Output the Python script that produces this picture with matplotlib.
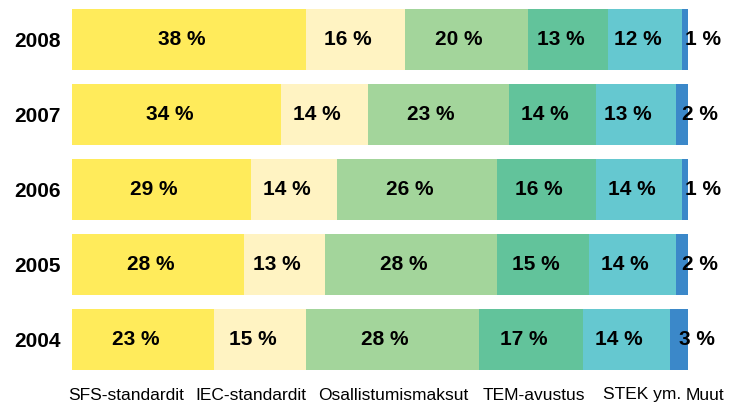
import matplotlib.pyplot as plt
import numpy as np

plt.rcParams['font.family'] = ['Liberation Sans', 'DejaVu Sans']

years = ['2008', '2007', '2006', '2005', '2004']
categories = ['SFS-standardit', 'IEC-standardit', 'Osallistumismaksut',
              'TEM-avustus', 'STEK ym.', 'Muut']
values = {
    'SFS-standardit':     [38, 34, 29, 28, 23],
    'IEC-standardit':     [16, 14, 14, 13, 15],
    'Osallistumismaksut': [20, 23, 26, 28, 28],
    'TEM-avustus':        [13, 14, 16, 15, 17],
    'STEK ym.':           [12, 13, 14, 14, 14],
    'Muut':               [1, 2, 1, 2, 3],
}
colors = ['#FFEB5B', '#FFF3C2', '#A3D59B', '#62C39B', '#65C8D0', '#3B88C9']

fig = plt.figure(figsize=(7.42, 4.05), dpi=100)
ax = fig.add_axes([72 / 742, 1 - 370 / 405, 616 / 742, 361 / 405])

y = np.arange(len(years))[::-1]
left = np.zeros(len(years))
for cat, col in zip(categories, colors):
    vals = np.array(values[cat], dtype=float)
    ax.barh(y, vals, left=left, height=0.82, color=col, edgecolor='none')
    for yi, l, v in zip(y, left, vals):
        if cat == 'Muut':
            # small slice: label hangs out past the bar end
            ax.text(l + v / 2, yi, f'{int(v)} %', ha='left', va='center',
                    fontsize=15, fontweight='bold', color='black')
        else:
            ax.text(l + v / 2 - 1.2, yi, f'{int(v)} %', ha='center', va='center',
                    fontsize=15, fontweight='bold', color='black')
    left += vals

ax.set_xlim(0, 100)
ax.set_ylim(-0.41, 4.41)
ax.set_yticks(y)
ax.set_yticklabels(years, fontsize=15, fontweight='bold')
ax.tick_params(axis='y', length=0, pad=8)
ax.set_xticks([])
for s in ax.spines.values():
    s.set_visible(False)

# legend is plain text under the chart, no colour keys
legend_x = [68, 195, 318, 483, 603, 686]
for lx, cat in zip(legend_x, categories):
    fig.text(lx / 742, 1 - 395 / 405, cat, ha='left', va='center', fontsize=12.5)

fig.savefig('out.png', dpi=100)
